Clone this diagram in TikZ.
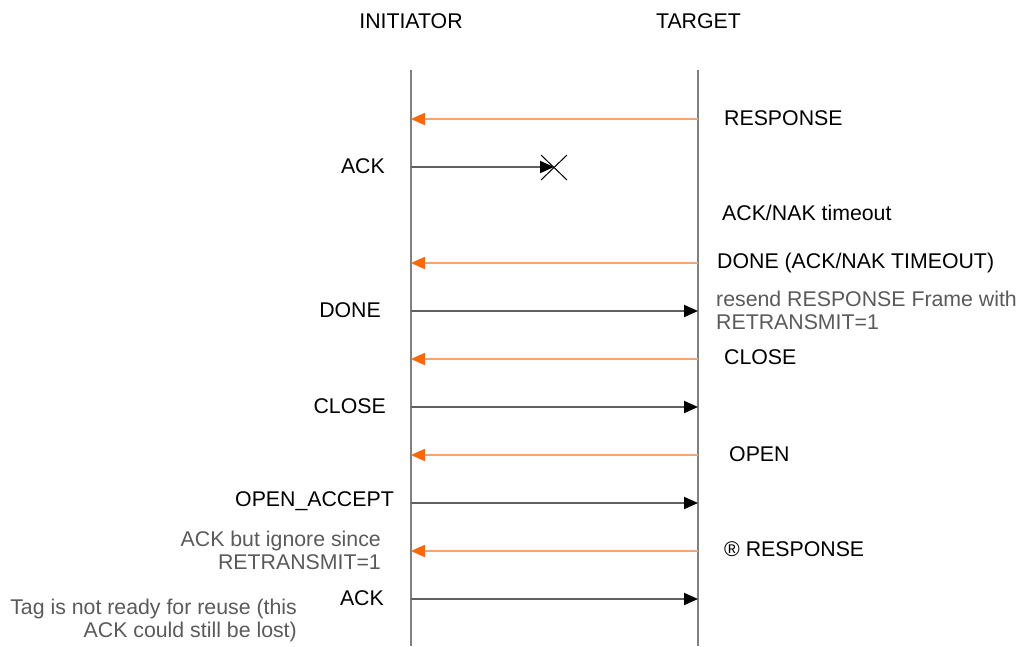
\documentclass[tikz,border=0pt]{standalone}
\usepackage{fontspec}
\setmainfont{Liberation Sans}
\usetikzlibrary{arrows.meta}
\definecolor{lifegray}{HTML}{808080}
\definecolor{reqline}{HTML}{606060}
\definecolor{respline}{HTML}{F8A470}
\definecolor{resptip}{HTML}{FF6600}
\definecolor{notegray}{HTML}{5A5A5A}
\begin{document}
\begin{tikzpicture}[x=1pt,y=-1pt,
  lifeline/.style={draw=lifegray,line width=2pt},
  reqmsg/.style={draw=reqline,line width=2pt,
    -{Triangle[length=14pt,width=12pt,color=black,fill=black]}},
  respmsg/.style={draw=respline,line width=2pt,
    -{Triangle[length=14pt,width=12pt,color=resptip,fill=resptip]}},
  lbl/.style={inner sep=0pt,font=\fontsize{21.3}{24}\selectfont,text=black},
  lblL/.style={lbl,anchor=west},
  lblR/.style={lbl,anchor=east},
  note/.style={inner sep=0pt,font=\fontsize{21.3}{23}\selectfont,text=notegray},
  cross/.style={draw=black,line width=1pt}]
\useasboundingbox (0,0) rectangle (1021,646);

% participants
\node[lbl] (ini) at (411,21) {INITIATOR};
\node[lbl] (tgt) at (698.5,21) {TARGET};

% lifelines
\coordinate (itop) at (411,70);
\coordinate (ibot) at (411,646);
\coordinate (ttop) at (698,70);
\coordinate (tbot) at (698,646);
\draw[lifeline] (itop) -- (ibot);
\draw[lifeline] (ttop) -- (tbot);

% message end points
\foreach \n/\y in {1/119,2/167,3/263,4/311,5/359,6/407,7/455,8/503,9/551,10/599}{
  \coordinate (i\n) at (411,\y);
  \coordinate (t\n) at (698,\y);
}
\coordinate (lost) at (554,167);

% messages
\draw[respmsg] (t1) -- (i1);
\draw[reqmsg] (i2) -- (lost);
\draw[respmsg] (t3) -- (i3);
\draw[reqmsg] (i4) -- (t4);
\draw[respmsg] (t5) -- (i5);
\draw[reqmsg] (i6) -- (t6);
\draw[respmsg] (t7) -- (i7);
\draw[reqmsg] (i8) -- (t8);
\draw[respmsg] (t9) -- (i9);
\draw[reqmsg] (i10) -- (t10);

% lost frame marker
\coordinate (xa) at (541,155);
\coordinate (xb) at (567,180);
\coordinate (xc) at (541,180);
\coordinate (xd) at (567,155);
\draw[cross] (xa) -- (xb);
\draw[cross] (xc) -- (xd);

% target side labels
\node[lblL] (l1) at (724,118) {RESPONSE};
\node[lblL] (l2) at (722,213) {ACK/NAK timeout};
\node[lblL] (l3) at (717,262.5) {DONE (ACK/NAK TIMEOUT)};
\node[lblL] (l5) at (724,357) {CLOSE};
\node[lblL] (l7) at (729,454) {OPEN};
\node[lblL] (l9) at (724,549) {® RESPONSE};

% initiator side labels
\node[lblR] (r2) at (385,166) {ACK};
\node[lblR] (r4) at (381,310) {DONE};
\node[lblR] (r6) at (386,406) {CLOSE};
\node[lblR] (r8) at (394,501) {OPEN\_ACCEPT};
\node[lblR] (r10) at (384,598) {ACK};

% notes
\node[note,anchor=west,align=left] (n1) at (716,310.5)
  {resend RESPONSE Frame with\\RETRANSMIT=1};
\node[note,anchor=east,align=right] (n2) at (381,550.5)
  {ACK but ignore since\\RETRANSMIT=1};
\node[note,anchor=east,align=right] (n3) at (297,620.5)
  {Tag is not ready for reuse (this\\ACK could still be lost)};
\end{tikzpicture}
\end{document}
